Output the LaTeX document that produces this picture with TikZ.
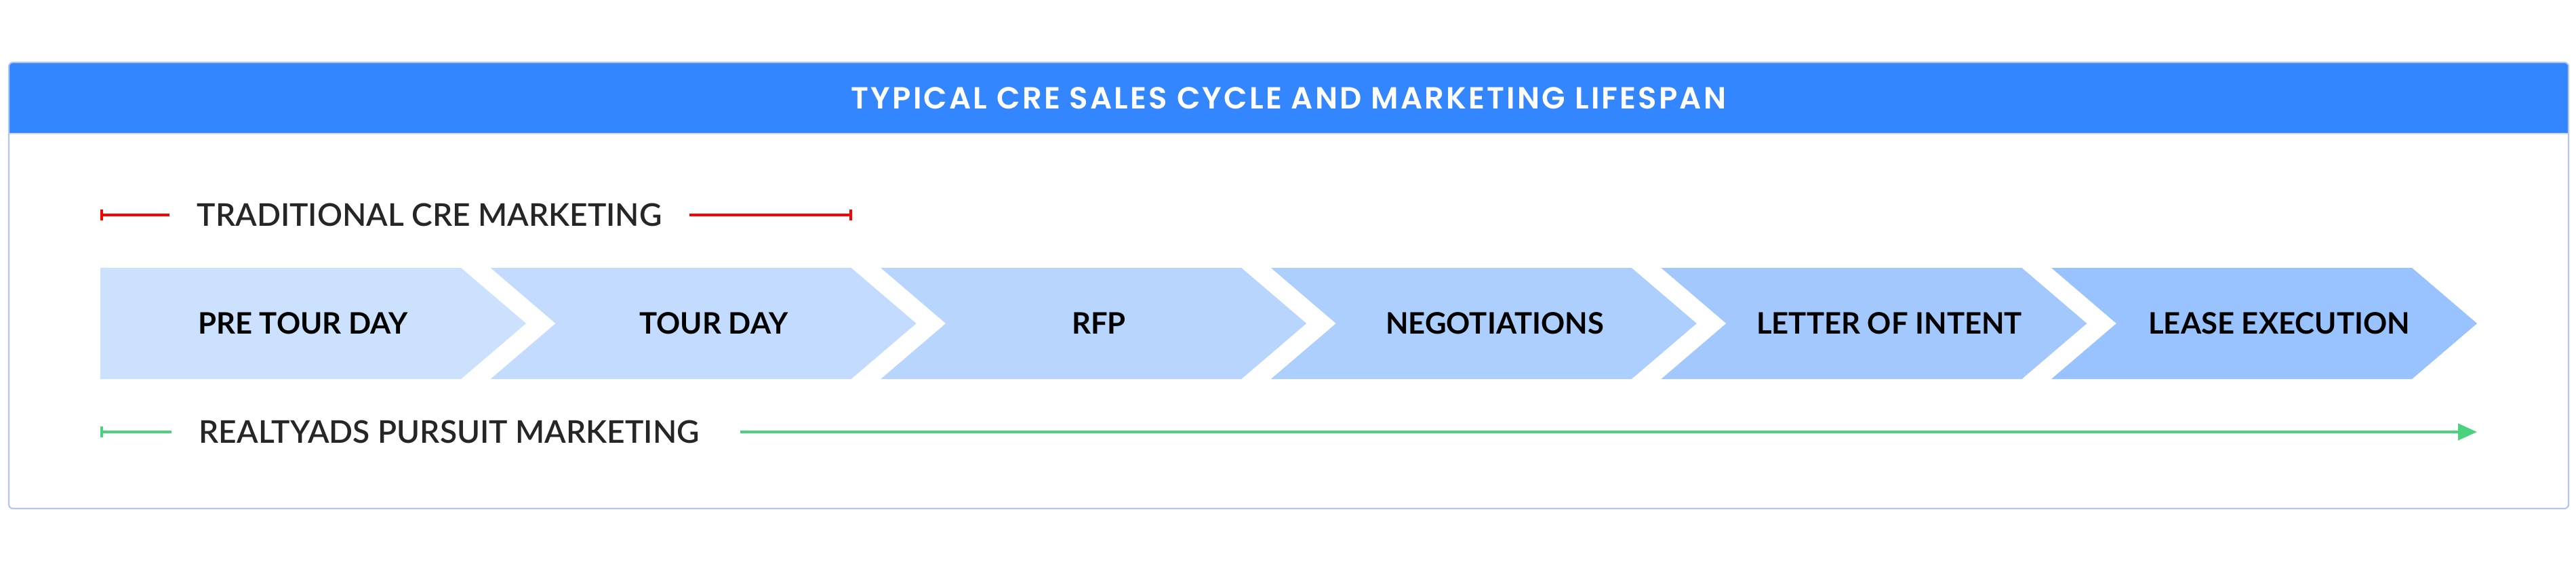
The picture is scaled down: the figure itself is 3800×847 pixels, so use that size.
\documentclass[tikz,border=0pt]{standalone}
\usepackage{fontspec}
\setmainfont{Lato}
\newfontfamily\titlefont{Poppins SemiBold}[LetterSpace=7]
\newfontfamily\labelfont{Lato Semibold}
\usetikzlibrary{arrows.meta}
\definecolor{hdrblue}{HTML}{3386FD}
\definecolor{boxedge}{HTML}{B3C6EC}
\definecolor{tradred}{HTML}{FF0000}
\definecolor{pursgreen}{HTML}{4AD27E}
\definecolor{labelgray}{HTML}{262626}
\tikzset{
  titletext/.style={font=\titlefont\fontsize{12.8}{14}\selectfont, text=white, inner sep=0pt},
  stagetext/.style={font=\fontsize{12.4}{14}\selectfont\bfseries, text=black, inner sep=0pt},
  tracklabel/.style={font=\labelfont\fontsize{13.1}{15}\selectfont, text=labelgray, anchor=west, inner xsep=0.4cm, inner ysep=0pt},
  track/.style={line width=1.2pt},
}

\begin{document}
\begin{tikzpicture}[x=0.01cm,y=-0.01cm]
  \useasboundingbox (0,0) rectangle (3800,847);
  %%%%% FRAME %%%%%
  \fill[white, rounded corners=0.06cm] (13,92) rectangle (3789,750);
  \fill[hdrblue, rounded corners=0.06cm] (13,92) rectangle (3789,197);
  \fill[hdrblue] (13,150) rectangle (3789,197);
  \draw[boxedge!70, line width=0.4pt] (13,197) -- (3789,197);
  \draw[boxedge, line width=0.6pt, rounded corners=0.06cm] (13,92) rectangle (3789,750);
  \node[titletext] (title) at (1901,145) {TYPICAL CRE SALES CYCLE AND MARKETING LIFESPAN};

  %%%%% STAGES %%%%%
  \foreach \i/\tint/\tx/\name/\txt in {0/25/447/pretour/PRE TOUR DAY, 1/30/1053/tour/TOUR DAY,
      2/35/1621/rfp/RFP, 3/40/2205/nego/NEGOTIATIONS, 4/45/2787/loi/LETTER OF INTENT,
      5/50/3362/lease/LEASE EXECUTION} {
    \pgfmathsetmacro\L{148+575.6*\i}
    \pgfmathsetmacro\nd{\i>0 ? 96 : 0}
    \fill[hdrblue!\tint] (\L,395) -- ++(532,0) -- ++(96,82) -- ++(-96,82) -- (\L,559) -- (\L+\nd,477) -- cycle;
    \node[stagetext] (\name) at (\tx,477) {\txt};
  }

  %%%%% TRACKS %%%%%
  \coordinate (tradstart) at (148,317);
  \coordinate (tradend) at (1257,317);
  \node[tracklabel] (trad) at (250,317) {TRADITIONAL CRE MARKETING};
  \draw[track, tradred, {Bar[width=0.16cm]}-] (tradstart) -- (trad.west);
  \draw[track, tradred, -{Bar[width=0.16cm]}] (trad.east) -- (tradend);

  \coordinate (pursstart) at (148,637);
  \coordinate (pursend) at (3654,637);
  \node[tracklabel] (purs) at (253,637) {REALTYADS PURSUIT MARKETING};
  \draw[track, pursgreen, {Bar[width=0.16cm]}-] (pursstart) -- (purs.west);
  \draw[track, pursgreen, -{Triangle[length=0.28cm,width=0.24cm]}, shorten <=0.2cm] (purs.east) -- (pursend);
\end{tikzpicture}
\end{document}
